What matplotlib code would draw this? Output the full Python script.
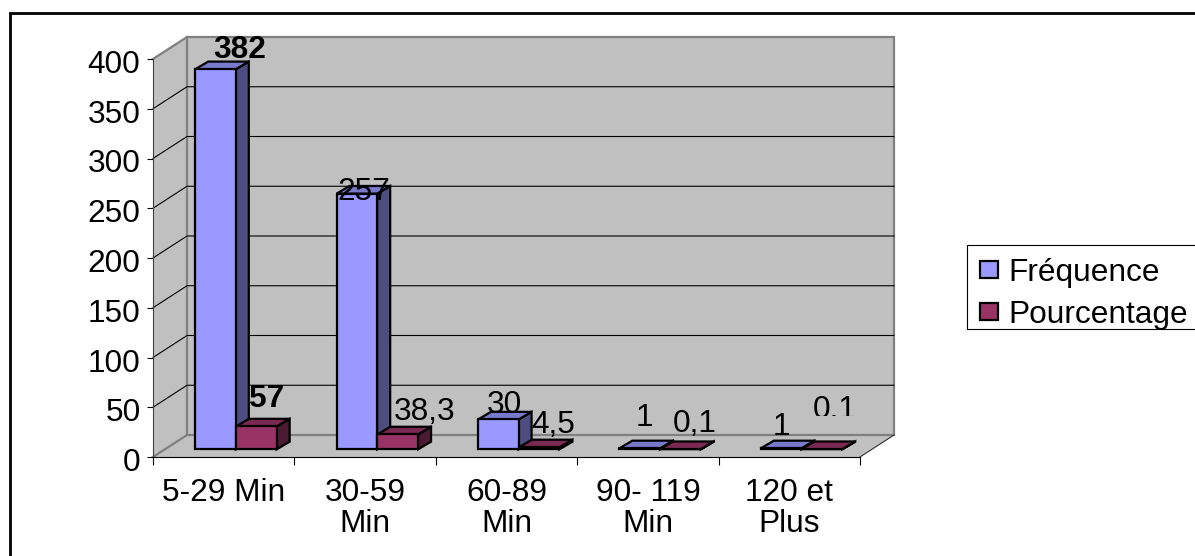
"""
Temps d'attente: 3D-look column chart drawn with plain matplotlib patches
"""
import matplotlib

matplotlib.use("Agg")
import matplotlib.pyplot as plt
from matplotlib.patches import Patch, Polygon, Rectangle
from matplotlib.transforms import Affine2D, Bbox

plt.rcParams["font.family"] = ["Liberation Sans", "DejaVu Sans"]

categories = ["5-29 Min", "30-59\nMin", "60-89\nMin", "90- 119\nMin", "120 et\nPlus"]
frequence = [382, 257, 30, 1, 1]
# The drawn height of these bars reads 23, 15, 2... on the axis, not what the labels say
pourcentage = [23, 15, 2, 0.2, 0.2]
frequence_labels = ["382", "257", "30", "1", "1"]
pourcentage_labels = ["57", "38,3", "4,5", "0,1", "0.1"]
yticks = [0, 50, 100, 150, 200, 250, 300, 350, 400]

WIDTH, HEIGHT = 1195, 556
FONT = 22.75
# depth of the chart box and of the bars, in data units
BOX_X, BOX_Y = 34 / 141.4, 22 / 0.995
BAR_X, BAR_Y = 13 / 141.4, 7.7
BAR_W = 0.287

fig = plt.figure(figsize=(WIDTH / 100, HEIGHT / 100), dpi=100)
axes = fig.add_axes([153 / WIDTH, 1 - 457 / HEIGHT, 707 / WIDTH, 398 / HEIGHT])
axes.set_xlim(-0.5, 4.5)
axes.set_ylim(0, 400)
axes.patch.set_visible(False)
for side in ("top", "right"):
    axes.spines[side].set_visible(False)
axes.spines["left"].set_color("#404040")
axes.spines["left"].set_zorder(6)
axes.spines["bottom"].set_zorder(6)


def shade(points, color, edge="black", lw=1.0, zorder=2):
    axes.add_patch(Polygon(points, closed=True, facecolor=color, edgecolor=edge, linewidth=lw, clip_on=False, zorder=zorder, joinstyle="miter"))


# Walls and floor
x0, x1 = -0.5, 4.5
shade([(x0, 0), (x0 + BOX_X, BOX_Y), (x1 + BOX_X, BOX_Y), (x1, 0)], "#C0C0C0", edge="none", zorder=1)
shade([(x0, 0), (x0 + BOX_X, BOX_Y), (x0 + BOX_X, 400 + BOX_Y), (x0, 400)], "#C0C0C0", edge="none", zorder=1)
shade([(x0 + BOX_X, BOX_Y), (x0 + BOX_X, 400 + BOX_Y), (x1 + BOX_X, 400 + BOX_Y), (x1 + BOX_X, BOX_Y)], "#C0C0C0", edge="#808080", lw=1.6, zorder=1)
axes.plot([x0, x0 + BOX_X], [0, BOX_Y], color="#808080", lw=1.6, clip_on=False, zorder=1.5)
axes.plot([x0, x0 + BOX_X], [400, 400 + BOX_Y], color="#808080", lw=1.6, clip_on=False, zorder=1.5)
axes.plot([x1, x1 + BOX_X], [0, BOX_Y], color="#303030", lw=0.8, clip_on=False, zorder=1.5)

# Grid lines run along the side wall, then across the back wall
for tick in yticks[1:-1]:
    axes.plot([x0, x0 + BOX_X, x1 + BOX_X], [tick, tick + BOX_Y, tick + BOX_Y], color="black", lw=0.8, clip_on=False, zorder=1.6)


def column(centre, value, color, side_color, top_color):
    left, right = centre - BAR_W / 2, centre + BAR_W / 2
    top = value + BAR_Y
    shade([(right, BAR_Y), (right + BAR_X, 2 * BAR_Y), (right + BAR_X, top + BAR_Y), (right, top)], side_color, lw=1.6, zorder=3)
    shade([(left, top), (left + BAR_X, top + BAR_Y), (right + BAR_X, top + BAR_Y), (right, top)], top_color, lw=1.6, zorder=3)
    axes.bar(centre, value, BAR_W, bottom=BAR_Y, color=color, edgecolor="black", linewidth=1.6, zorder=3, clip_on=False)


OFF_F, OFF_P = -0.058, 0.231
for i, (freq, pct) in enumerate(zip(frequence, pourcentage)):
    column(i + OFF_F, freq, "#9999FF", "#4D4D80", "#7A7ACC")
    column(i + OFF_P, pct, "#993366", "#4D1A33", "#7A2952")

# Hand-moved data labels: nudge from the bar's top centre, in pixels
freq_nudge = [(24.5, 11.3), (7, -6.4), (6, 6), (5, 22.6), (0, 13.6)]
pct_nudge = [(10.6, 19), (27, 14), (14, 14), (14, 17), (13, 31)]
for i, (text, nudge) in enumerate(zip(frequence_labels, freq_nudge)):
    axes.annotate(text, (i + OFF_F, frequence[i] + BAR_Y), xytext=nudge, textcoords="offset pixels", ha="center", va="baseline", fontsize=FONT, fontweight="bold" if i == 0 else "normal", zorder=5, annotation_clip=False)
for i, (text, nudge) in enumerate(zip(pourcentage_labels, pct_nudge)):
    label = axes.annotate(text, (i + OFF_P, pourcentage[i] + BAR_Y), xytext=nudge, textcoords="offset pixels", ha="center", va="baseline", fontsize=FONT, fontweight="bold" if i == 0 else "normal", zorder=5, annotation_clip=False)
# The last label is cut off at its foot in the original
label.set_clip_box(Bbox([[0, HEIGHT - 416], [WIDTH, HEIGHT]]))
label.set_clip_on(True)

# Axes
axes.set_yticks(yticks)
axes.tick_params(axis="y", labelsize=FONT, length=4, width=0.8, pad=5)
for label in axes.get_yticklabels():
    label.set_transform(label.get_transform() + Affine2D().translate(0, -2.5))
axes.set_xticks([-0.5, 0.5, 1.5, 2.5, 3.5, 4.5])
axes.set_xticklabels([])
axes.set_xticks(range(len(categories)), categories, minor=True)
axes.tick_params(axis="x", which="major", length=6, width=0.8)
axes.tick_params(axis="x", which="minor", length=0, labelsize=FONT, pad=15)
for label in axes.get_xticklabels(minor=True):
    label.set_linespacing(1.05)

handles = [Patch(facecolor="#9999FF", edgecolor="black", linewidth=1.6), Patch(facecolor="#993366", edgecolor="black", linewidth=1.6)]
fig.legend(handles, ["Fréquence", "Pourcentage"], loc="upper left", bbox_to_anchor=(980 / WIDTH, 1 - 258 / HEIGHT), borderaxespad=0, borderpad=0, fontsize=FONT, frameon=False, handlelength=0.58, handleheight=0.45, handletextpad=0.33, labelspacing=0.37)
fig.add_artist(Rectangle((967 / WIDTH, 1 - 329 / HEIGHT), 300 / WIDTH, 84 / HEIGHT, transform=fig.transFigure, fill=False, edgecolor="black", linewidth=0.8))

# Outer chart frame, only its top and left edges fall inside the picture
fig.add_artist(Rectangle((10 / WIDTH, -20 / HEIGHT), 1300 / WIDTH, 563 / HEIGHT, transform=fig.transFigure, fill=False, edgecolor="black", linewidth=2.0))

fig.savefig("out.png", dpi=100)
